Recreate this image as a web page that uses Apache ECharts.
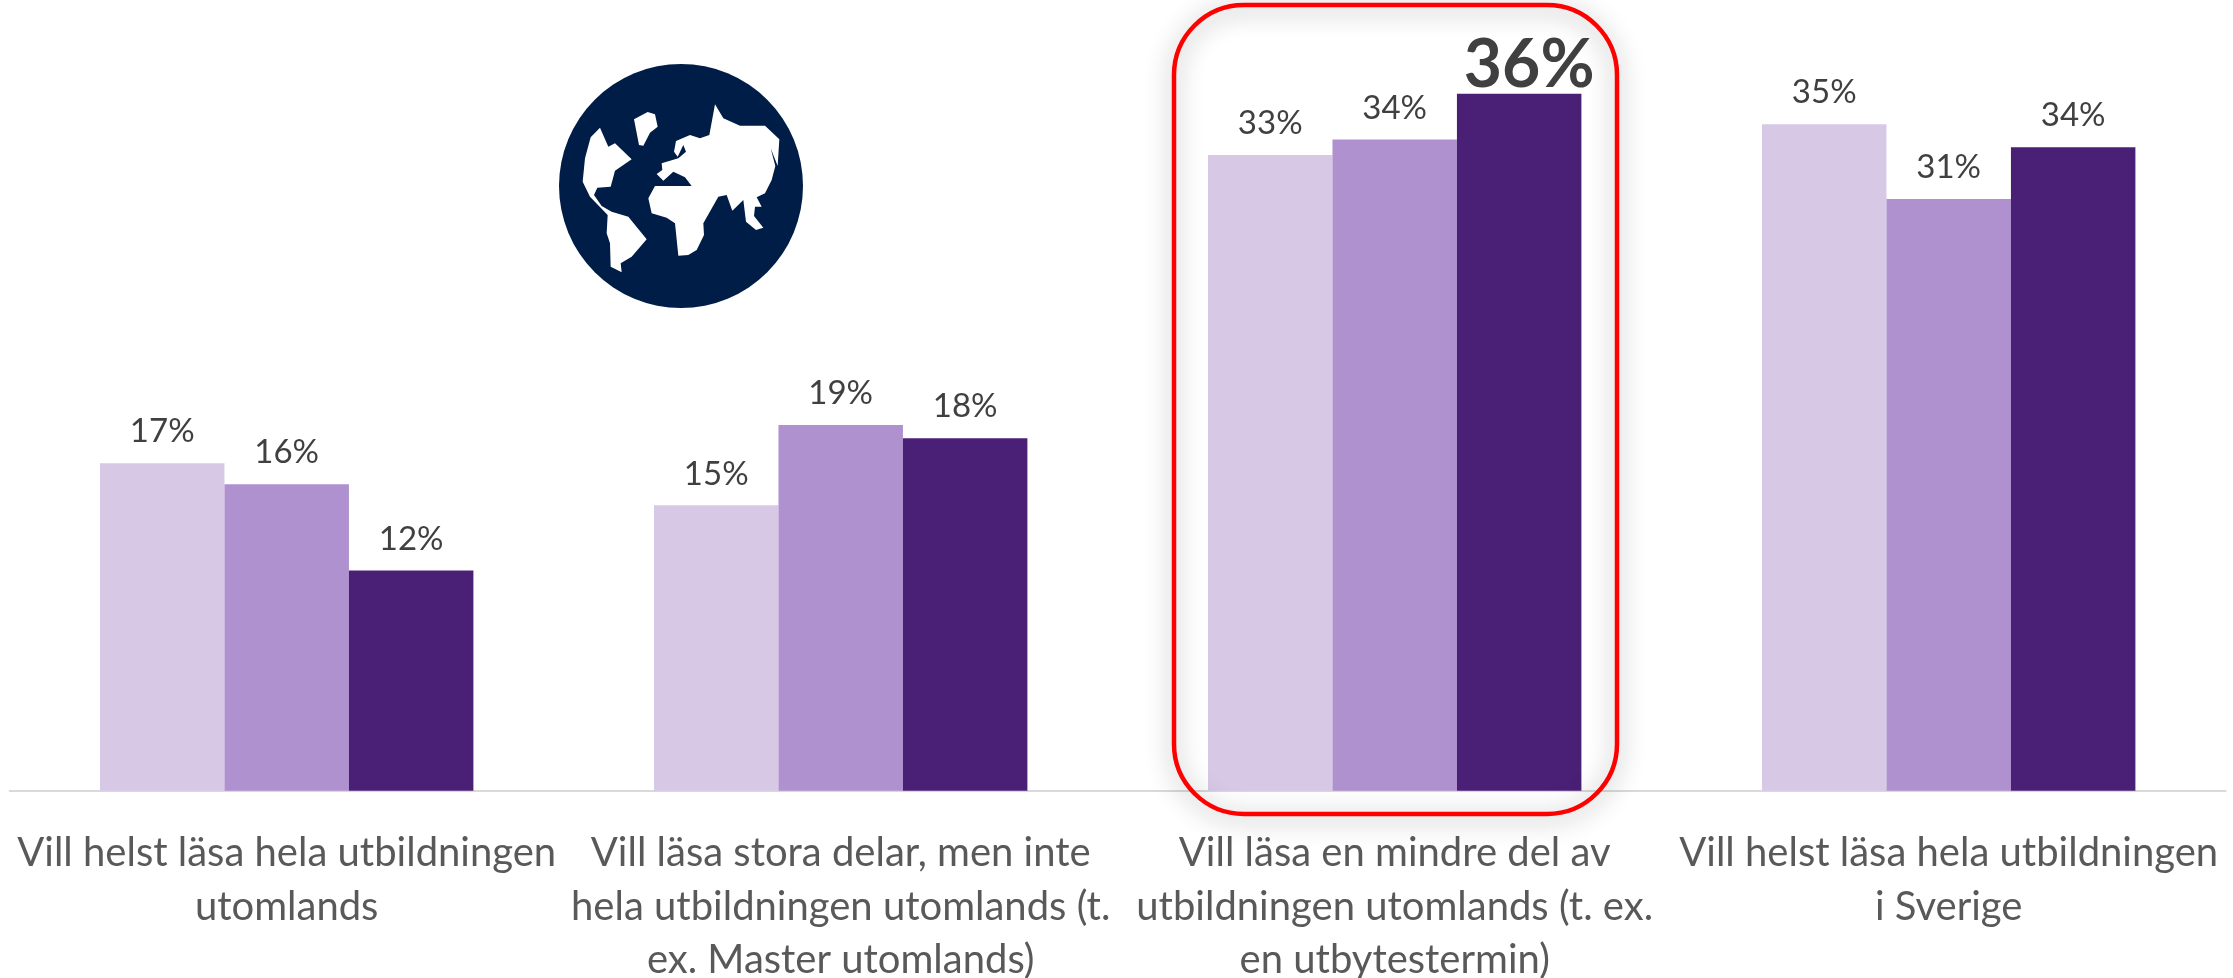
<!DOCTYPE html>
<html lang="sv">
<head>
  <meta charset="UTF-8" />
  <title>Vill läsa utomlands</title>
  <script src="https://cdn.jsdelivr.net/npm/echarts@6"></script>
  <style>
    html, body { margin: 0; padding: 0; background: #fff; }
    #chart { width: 2233px; height: 978px; }
  </style>
</head>
<body>
  <div id="chart"></div>
  <script>
    const categories = [
      'Vill helst läsa hela utbildningen\nutomlands',
      'Vill läsa stora delar, men inte\nhela utbildningen utomlands (t.\nex. Master utomlands)',
      'Vill läsa en mindre del av\nutbildningen utomlands (t. ex.\nen utbytestermin)',
      'Vill helst läsa hela utbildningen\ni Sverige'
    ];
    const seriesA = [17.1, 14.9, 33.2, 34.8];
    const seriesB = [16.0, 19.1, 34.0, 30.9];
    const seriesC = [11.5, 18.4, 36.4, 33.6];
    const seriesColors = ['#d7c9e6', '#af91cf', '#4a1f76'];

    // the big bold label on the third group, last series
    const highlightIndex = 2;

    // globe outlines, in px of a 3x crop, the group below scales them back
    const greenland = [[402,118],[443,96],[465,103],[473,140],[450,158],[430,197],[417,195]];
    const americas = [[300,143],[325,200],[345,190],[395,238],[345,272],[332,320],[292,323],[282,345],[305,378],[335,395],[385,410],[440,478],[395,530],[362,550],[365,577],[332,560],[330,490],[320,460],[323,405],[270,350],[248,305],[255,235],[272,172]];
    const eurasiaAfrica = [[645,73],[670,115],[720,137],[795,137],[838,178],[833,258],[812,205],[826,258],[815,300],[795,340],[770,352],[785,380],[765,380],[762,408],[790,443],[768,450],[738,425],[730,360],[697,392],[680,345],[655,350],[610,430],[612,465],[590,510],[565,525],[535,527],[525,430],[500,413],[455,400],[445,355],[465,318],[575,318],[555,292],[520,275],[490,302],[470,282],[487,270],[485,250],[535,235],[558,215],[550,195],[533,230],[522,215],[528,183],[570,165],[600,175],[628,165]];

    const fontFamily = 'Lato, sans-serif';
    const myChart = echarts.init(document.getElementById('chart'), null, { renderer: 'canvas' });

    function makeSeries(name, values, color, highlight) {
      return {
        name: name,
        type: 'bar',
        barGap: 0,
        barCategoryGap: '32.6%',
        itemStyle: { color: color },
        label: {
          show: true,
          position: 'top',
          distance: 15,
          color: '#404040',
          fontFamily: fontFamily,
          fontSize: 33,
          formatter: p => Math.round(p.value) + '%'
        },
        data: values.map((v, i) => {
          if (highlight && i === highlightIndex) {
            return { value: v, label: { fontSize: 66, fontWeight: 'bold', distance: -5, offset: [10, 0] } };
          }
          return v;
        })
      };
    }

    const land = [greenland, americas, eurasiaAfrica].map(points => ({
      type: 'polygon',
      z: 21,
      shape: { points: points },
      style: { fill: '#fff' }
    }));

    myChart.setOption({
      animation: false,
      grid: { left: 9.7, right: 7.3, top: 24.7, bottom: 187.3, outerBoundsMode: 'none' },
      xAxis: {
        type: 'category',
        data: categories,
        axisTick: { show: false },
        axisLine: { lineStyle: { color: '#d9d9d9', width: 2 } },
        axisLabel: {
          interval: 0,
          margin: 36,
          color: '#595959',
          fontFamily: fontFamily,
          fontSize: 40,
          lineHeight: 53.5,
          align: 'center',
          hideOverlap: false
        }
      },
      yAxis: { type: 'value', min: 0, max: 40, show: false },
      series: [
        makeSeries('Serie 1', seriesA, seriesColors[0], false),
        makeSeries('Serie 2', seriesB, seriesColors[1], false),
        makeSeries('Serie 3', seriesC, seriesColors[2], true)
      ],
      graphic: [
        {
          type: 'circle',
          z: 20,
          shape: { cx: 681, cy: 186, r: 122 },
          style: { fill: '#001d47' }
        },
        {
          type: 'group',
          x: 500,
          y: 80,
          scaleX: 1 / 3,
          scaleY: 1 / 3,
          children: land
        },
        {
          type: 'rect',
          z: 30,
          shape: { x: 1174, y: 5, width: 443, height: 809, r: 70 },
          style: {
            fill: 'none',
            stroke: '#ff0000',
            lineWidth: 4.5,
            shadowColor: 'rgba(0,0,0,0.45)',
            shadowBlur: 24,
            shadowOffsetY: 4
          }
        }
      ]
    });
  </script>
</body>
</html>
